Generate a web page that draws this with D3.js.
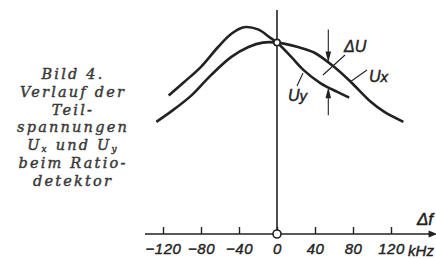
<!DOCTYPE html>
<html>
<head>
<meta charset="utf-8">
<script src="https://d3js.org/d3.v7.min.js"></script>
<style>
  body { margin: 0; background: #fff; }
  svg { display: block; }
</style>
</head>
<body>
<div id="chart"></div>
<script>
// frequency deviation (kHz) and relative voltage
var freqUy = [-114, -98, -80, -62, -48, -35, -20, -8, 0, 15, 28, 46, 64, 76];
var valUy  = [63, 69, 76, 85, 91, 94, 93, 89.5, 87, 80.5, 74.5, 68.5, 64.5, 62];

var freqUx = [-127, -112, -90, -70, -48, -30, -15, 0, 22, 39, 60, 78, 99, 113, 133];
var valUx  = [51, 55.5, 63, 72, 80.5, 85, 87, 87, 85, 82.5, 76, 69, 60, 55.5, 51];

var tickValues = [-120, -80, -40, 0, 40, 80, 120];
var tickLabels = ["\u2212120", "\u221280", "\u221240", "0", "40", "80", "120"];

// delta U marker: frequency, arrow ends and curve values there
var dUfreq = 54;
var dUtop = 93, dUbottom = 54;
var dUx = 78, dUy = 66.7;

var caption = ["Bild 4.", "Verlauf der", "Teil-", "spannungen", "U\u2093 und U\u1D67", "beim Ratio-", "detektor"];

var W = 436, H = 259;
var svg = d3.select("#chart").append("svg").attr("width", W).attr("height", H);

var x = d3.scaleLinear().domain([-120, 120]).range([163, 391]);
var y = d3.scaleLinear().domain([0, 100]).range([234, 14]);

var serif = "'DejaVu Serif', serif";
var sans = "'Liberation Sans', Arial, sans-serif";
var ink = "#222";

// caption on the left
var cap = svg.append("text")
  .attr("text-anchor", "middle")
  .style("font-family", serif)
  .style("font-style", "italic")
  .style("font-size", "14.5px")
  .style("letter-spacing", "2.2px")
  .attr("fill", "#3a3a3a")
  .attr("stroke", "#3a3a3a").attr("stroke-width", 0.45);
caption.forEach(function(line, i) {
  var t = cap.append("tspan").attr("x", 73).attr("y", 79 + i * 17.8);
  if (line.indexOf("U") === 0) {
    t.text("U");
    t.append("tspan").text("x").style("font-size", "9px").attr("dy", 2);
    t.append("tspan").text(" und U").attr("dy", -2);
    t.append("tspan").text("y").style("font-size", "9px").attr("dy", 2);
  } else {
    t.text(line);
  }
});

// horizontal axis line with arrow
svg.append("line")
  .attr("x1", x(-139)).attr("x2", x(166))
  .attr("y1", y(0)).attr("y2", y(0))
  .attr("stroke", ink).attr("stroke-width", 1.6);
svg.append("path")
  .attr("d", "M" + x(169) + "," + y(0) + "l-9,-3.5l0,7z")
  .attr("fill", ink);

// ticks and labels
var axis = d3.axisBottom(x)
  .tickValues(tickValues)
  .tickSizeInner(-7)
  .tickSizeOuter(0)
  .tickPadding(9)
  .tickFormat(function(d, i) { return tickLabels[i]; });
var gx = svg.append("g").attr("transform", "translate(0," + y(0) + ")").call(axis);
gx.select(".domain").remove();
gx.selectAll(".tick line").attr("stroke", ink).attr("stroke-width", 1.4);
gx.selectAll(".tick text")
  .style("font-family", sans)
  .style("font-style", "italic")
  .style("font-size", "15px")
  .style("letter-spacing", "0.5px")
  .attr("fill", ink)
  .attr("stroke", ink).attr("stroke-width", 0.4);

svg.append("text")
  .attr("x", 421).attr("y", y(0) + 22)
  .attr("text-anchor", "middle")
  .style("font-family", sans).style("font-style", "italic").style("font-size", "15px")
  .attr("fill", ink).attr("stroke", ink).attr("stroke-width", 0.4)
  .text("kHz");

svg.append("text")
  .attr("x", 425).attr("y", 225)
  .attr("text-anchor", "middle")
  .style("font-family", sans).style("font-style", "italic").style("font-size", "17px")
  .attr("fill", ink).attr("stroke", ink).attr("stroke-width", 0.5)
  .text("\u0394f");

// vertical axis
svg.append("line")
  .attr("x1", x(0)).attr("x2", x(0))
  .attr("y1", 10).attr("y2", y(0))
  .attr("stroke", ink).attr("stroke-width", 1.6);

// curves
var line = d3.line()
  .x(function(d) { return x(d[0]); })
  .y(function(d) { return y(d[1]); })
  .curve(d3.curveCatmullRom.alpha(0.5));

svg.append("path")
  .datum(d3.zip(freqUx, valUx))
  .attr("d", line)
  .attr("fill", "none").attr("stroke", ink).attr("stroke-width", 2.6);
svg.append("path")
  .datum(d3.zip(freqUy, valUy))
  .attr("d", line)
  .attr("fill", "none").attr("stroke", ink).attr("stroke-width", 2.6);

// circles at origin and at crossing
svg.append("circle").attr("cx", x(0)).attr("cy", y(0)).attr("r", 4)
  .attr("fill", "#fff").attr("stroke", ink).attr("stroke-width", 1.6);
svg.append("circle").attr("cx", x(0)).attr("cy", y(87)).attr("r", 3.2)
  .attr("fill", "#fff").attr("stroke", ink).attr("stroke-width", 1.6);

// delta U arrows
var ax = x(dUfreq);
svg.append("line").attr("x1", ax).attr("x2", ax).attr("y1", y(dUtop)).attr("y2", y(dUx) - 8)
  .attr("stroke", ink).attr("stroke-width", 1.1);
svg.append("path").attr("d", "M" + ax + "," + y(dUx) + "l-2.8,-11l5.6,0z").attr("fill", ink);
svg.append("line").attr("x1", ax).attr("x2", ax).attr("y1", y(dUbottom)).attr("y2", y(dUy) + 8)
  .attr("stroke", ink).attr("stroke-width", 1.1);
svg.append("path").attr("d", "M" + ax + "," + y(dUy) + "l-2.8,11l5.6,0z").attr("fill", ink);

// leader lines
var leaders = [[323, 75, 345, 55], [350, 82, 367, 70], [297, 86, 303, 73]];
leaders.forEach(function(l) {
  svg.append("line").attr("x1", l[0]).attr("y1", l[1]).attr("x2", l[2]).attr("y2", l[3])
    .attr("stroke", ink).attr("stroke-width", 1.1);
});

function label(xp, yp, main, sub) {
  var t = svg.append("text").attr("x", xp).attr("y", yp)
    .style("font-family", sans).style("font-style", "italic").style("font-size", "16px")
    .attr("fill", ink).attr("stroke", ink).attr("stroke-width", 0.4).text(main);
  if (sub) t.append("tspan").text(sub).style("font-size", "15px");
}
label(344, 52, "\u0394U");
label(369, 82, "U", "x");
label(288, 101, "U", "y");
</script>
</body>
</html>
